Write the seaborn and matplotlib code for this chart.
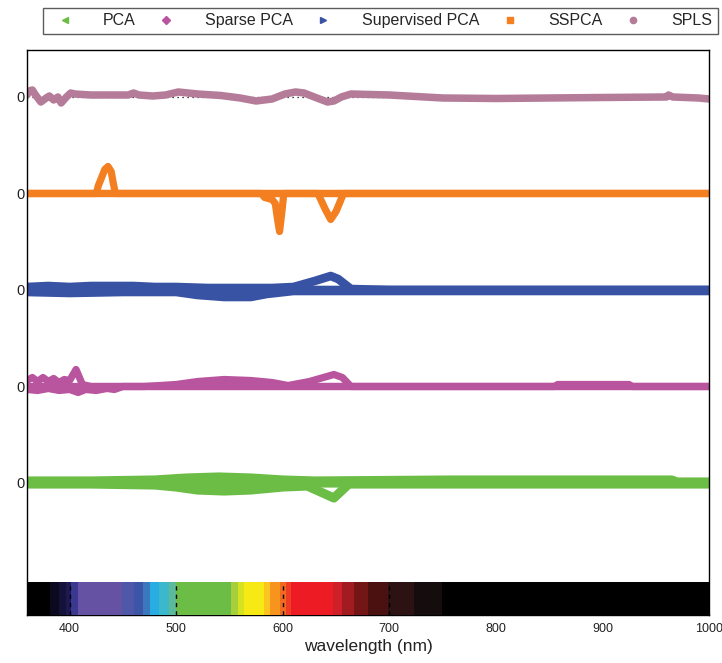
import matplotlib

matplotlib.use("Agg")
import matplotlib.pyplot as plt
import pandas as pd
import seaborn as sns
from matplotlib.lines import Line2D

# loadings, one polyline per component (wavelength nm, loading)
methods = ["PCA", "Sparse PCA", "Supervised PCA", "SSPCA", "SPLS"]
colors = ["#6bbd45", "#b9549e", "#3953a4", "#f47f20", "#b57c9a"]
legend_markers = ["<", "D", ">", "s", "o"]
line_widths = [6.6, 5.2, 6.2, 5.2, 5.4]

pca_c1_wl = [360, 420, 480, 510, 540, 570, 600, 630, 760, 965, 970, 1000]
pca_c1_val = [2, 2, 3, 5, 6, 5, 3, 2, 3, 3, 1, 1]
pca_c2_wl = [360, 420, 480, 500, 520, 545, 570, 600, 623, 648, 662, 700, 1000]
pca_c2_val = [-1, -1, -2, -4, -7, -8, -7, -4, -3, -15, -1, -1, -1]
pca_c3_wl = [360, 380, 400, 430, 460, 500, 540, 580, 620, 1000]
pca_c3_val = [0, 1, 0, 1, 0, 0, -2, 0, 0, 0]

sp_c1_wl = [360, 365, 370, 375, 380, 385, 390, 395, 400, 406, 412, 420, 470, 500,
            520, 545, 570, 590, 605, 625, 648, 656, 664, 855, 858, 925, 928, 1000]
sp_c1_val = [6, 9, 5, 9, 5, 8, 4, 7, 6, 17, 2, 0, 0, 2,
             5, 7, 6, 4, 1, 5, 12, 9, 0, 0, 2, 2, 0, 0]
sp_c2_wl = [360, 370, 380, 390, 400, 408, 415, 425, 435, 442, 450, 1000]
sp_c2_val = [-3, -4, -2, -4, -3, -6, -3, -4, -2, -3, 0, 0]
sp_c3_wl = [360, 1000]
sp_c3_val = [0, 0]

sup_c1_wl = [360, 380, 400, 420, 440, 460, 480, 500, 530, 560, 590, 610, 630,
             645, 652, 664, 700, 1000]
sup_c1_val = [3, 4, 3, 4, 4, 4, 3, 3, 2, 2, 2, 3, 9, 14, 11, 1, 0, 0]
sup_c2_wl = [360, 400, 450, 500, 520, 545, 570, 585, 610, 1000]
sup_c2_val = [-2, -3, -2, -2, -5, -7, -7, -4, -1, -1]
sup_c3_wl = [360, 500, 540, 580, 1000]
sup_c3_val = [0, 0, -1, 0, 0]

ss_c1_wl = [360, 425, 427, 430, 433, 436, 439, 441, 443, 1000]
ss_c1_val = [0, 0, 8, 16, 24, 27, 22, 10, 0, 0]
ss_c2_wl = [360, 580, 583, 590, 593, 595, 597, 599, 601, 1000]
ss_c2_val = [0, 0, -4, -6, -10, -25, -38, -20, 0, 0]
ss_c3_wl = [360, 633, 640, 645, 650, 657, 1000]
ss_c3_val = [0, 0, -16, -26, -18, 0, 0]

spls_c1_wl = [360, 362, 365, 368, 373, 378, 381, 385, 389, 392, 397, 401, 405,
              420, 440, 455, 460, 465, 478, 490, 502, 520, 542, 560, 575, 590,
              602, 612, 620, 632, 642, 648, 655, 664, 700, 750, 800, 900, 960,
              962, 966, 990, 1000]
spls_c1_val = [2, 6, 7, 2, -5, -1, 1, -3, 0, -6, 0, 4, 3,
               2, 2, 2, 4, 2, 1, 2, 5, 3, 1.5, -1, -4, -2,
               3, 5, 4, -1, -5, -4, 0, 3, 2, -1, -1.5, -0.5, 0,
               2, 0, -1, -2]

components = {
    "PCA": [(pca_c1_wl, pca_c1_val), (pca_c2_wl, pca_c2_val), (pca_c3_wl, pca_c3_val)],
    "Sparse PCA": [(sp_c1_wl, sp_c1_val), (sp_c2_wl, sp_c2_val), (sp_c3_wl, sp_c3_val)],
    "Supervised PCA": [(sup_c1_wl, sup_c1_val), (sup_c2_wl, sup_c2_val), (sup_c3_wl, sup_c3_val)],
    "SSPCA": [(ss_c1_wl, ss_c1_val), (ss_c2_wl, ss_c2_val), (ss_c3_wl, ss_c3_val)],
    "SPLS": [(spls_c1_wl, spls_c1_val)],
}

# visible spectrum strip under the traces
spectrum_edges = [360, 382, 390, 397, 401, 408, 449, 460, 469, 475, 484, 493, 500,
                  551, 558, 564, 582, 588, 597, 603, 608, 647, 656, 667, 680, 699,
                  723, 749, 1000]
spectrum_colors = ["#000000", "#0b0820", "#15123a", "#1c1a50", "#3a3890", "#6652a2",
                   "#4f57a8", "#3d55a6", "#3a78be", "#27ade2", "#3cb8cc", "#5cb99a",
                   "#6bbd45", "#a6cf39", "#d4e21f", "#f7e914", "#fcc41f", "#f7941d",
                   "#f26a22", "#ee3d24", "#ed1c24", "#cf1f28", "#a11b21", "#741616",
                   "#4b1111", "#2c1212", "#150d0d", "#000000"]

OFFSET_STEP = 96.5

rows = []
for index, method in enumerate(methods):
    for number, (wl, val) in enumerate(components[method]):
        for w, v in zip(wl, val):
            rows.append({"method": method, "component": number, "wavelength": w,
                         "loading": v, "shifted": v + index * OFFSET_STEP})
frame = pd.DataFrame(rows)

sns.set_theme(style="white")
plt.rcParams["font.family"] = ["Liberation Sans", "DejaVu Sans"]

figure = plt.figure(figsize=(7.22, 6.63), dpi=100)
axis = figure.add_axes([0.0374, 0.0724, 0.9446, 0.8522])

for index in range(len(methods)):
    axis.axhline(index * OFFSET_STEP, color="black", linestyle=(0, (1, 3)),
                 linewidth=0.9, zorder=1)

for method, color, width in zip(methods, colors, line_widths):
    sns.lineplot(
        data=frame[frame["method"] == method],
        x="wavelength",
        y="shifted",
        units="component",
        estimator=None,
        sort=False,
        color=color,
        linewidth=width,
        solid_capstyle="round",
        solid_joinstyle="round",
        legend=False,
        ax=axis,
        zorder=2,
    )

bar_bottom, bar_top = -132, -99
axis.broken_barh(
    [(a, b - a) for a, b in zip(spectrum_edges[:-1], spectrum_edges[1:])],
    (bar_bottom, bar_top - bar_bottom),
    facecolors=spectrum_colors,
    edgecolor="none",
    zorder=3,
)
ticks = [400, 500, 600, 700, 800, 900, 1000]
axis.vlines(ticks, bar_bottom, bar_top, colors="black", linestyles=(0, (3, 3)),
            linewidth=1.0, zorder=4)

axis.set_xlim(360, 1000)
axis.set_ylim(-132, 433)
axis.set_xticks(ticks)
axis.set_xticklabels([str(t) for t in ticks], fontsize=9, color="#222222")
axis.set_yticks([index * OFFSET_STEP for index in range(len(methods))])
axis.set_yticklabels(["0"] * len(methods), fontsize=10.5, color="#222222")
axis.tick_params(axis="both", direction="in", length=3, pad=2, color="black")
axis.tick_params(axis="x", length=0, pad=6)
axis.set_xlabel("wavelength (nm)", fontsize=12.5, color="#222222", labelpad=3)
axis.set_ylabel("")
for spine in axis.spines.values():
    spine.set_color("black")
    spine.set_linewidth(1.0)

handles = [
    Line2D([], [], linestyle="none", marker=m, color=c, markersize=4.5)
    for m, c in zip(legend_markers, colors)
]
figure.legend(
    handles,
    methods,
    loc="lower left",
    bbox_to_anchor=(0.0596, 0.9487, 0.935, 0.0438),
    mode="expand",
    ncol=5,
    frameon=True,
    fancybox=False,
    edgecolor="#333333",
    fontsize=11.5,
    handletextpad=1.4,
    borderaxespad=0,
    borderpad=0.35,
)

figure.savefig("out.png", dpi=100)
plt.close(figure)
